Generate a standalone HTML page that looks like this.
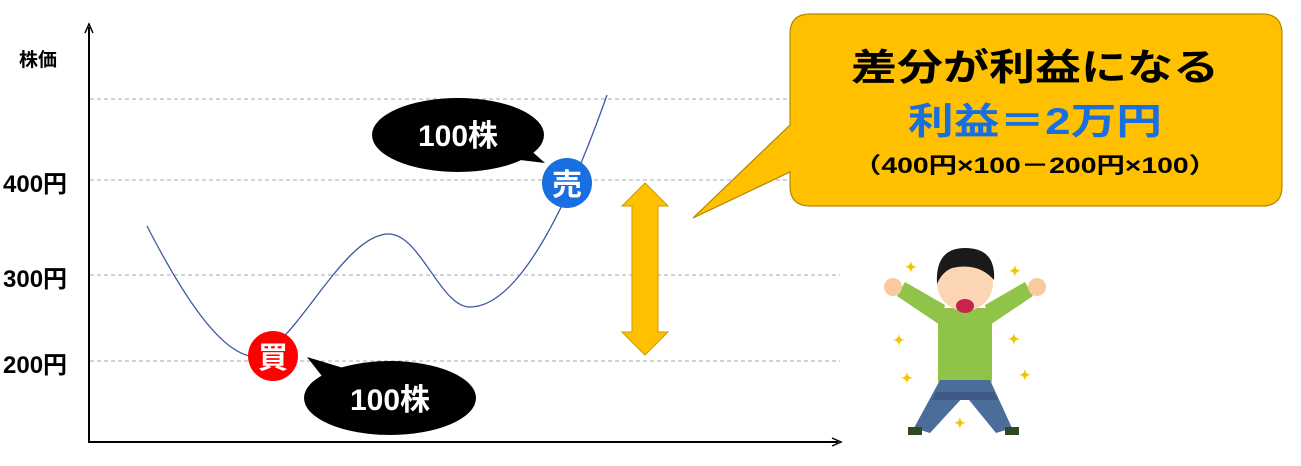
<!DOCTYPE html>
<html><head><meta charset="utf-8"><style>
body{margin:0;background:#fff;}
svg text{font-family:"Liberation Sans","Noto Sans CJK JP",sans-serif;font-weight:bold;}
</style></head><body>
<svg width="1301" height="461" viewBox="0 0 1301 461" xmlns="http://www.w3.org/2000/svg">
<g stroke="#aaa" stroke-dasharray="4,3" stroke-width="1">
<line x1="90" y1="99" x2="840" y2="99"/><line x1="90" y1="180" x2="840" y2="180"/>
<line x1="90" y1="275" x2="840" y2="275"/><line x1="90" y1="361" x2="840" y2="361"/>
</g>
<line x1="89" y1="442" x2="89" y2="27" stroke="#000" stroke-width="2"/>
<path d="M85,33 L89,24 L93,33" fill="none" stroke="#000" stroke-width="1.5"/>
<line x1="88" y1="442" x2="838" y2="442" stroke="#000" stroke-width="2"/>
<path d="M832,438 L841,442 L832,446" fill="none" stroke="#000" stroke-width="1.5"/>
<text x="19" y="66" font-size="19">株価</text>
<text x="3" y="192" font-size="24">400円</text>
<text x="3" y="287" font-size="24">300円</text>
<text x="3" y="373" font-size="24">200円</text>
<path d="M147,226 C185,300 220,350 250,356 C290,360 340,235 388,234 C420,233 440,307 470,307 C520,307 570,200 607,95" fill="none" stroke="#3a5aa0" stroke-width="1.3"/>
<ellipse cx="458" cy="135" rx="86" ry="37"/>
<path d="M520,160 L545,163 L528,148 Z"/>
<text x="458" y="146" font-size="30" fill="#fff" text-anchor="middle">100株</text>
<ellipse cx="390" cy="398" rx="86" ry="37"/>
<path d="M307,357 L350,370 L325,380 Z"/>
<text x="390" y="410" font-size="30" fill="#fff" text-anchor="middle">100株</text>
<circle cx="567" cy="183" r="25" fill="#1a6fe0"/>
<text x="567" y="195" font-size="30" fill="#fff" text-anchor="middle">売</text>
<circle cx="273" cy="356" r="25" fill="#f00"/>
<text x="273" y="368" font-size="30" fill="#fff" text-anchor="middle">買</text>
<path d="M645,183 L668,206 L658,206 L658,332 L668,332 L645,355 L622,332 L632,332 L632,206 L622,206 Z" fill="#FFC000" stroke="#c89a00" stroke-width="1"/>
<path d="M810,14 H1262 Q1282,14 1282,34 V186 Q1282,206 1262,206 H810 Q790,206 790,186 V172 L693,218 L790,125 V34 Q790,14 810,14 Z" fill="#FFC000" stroke="#b08800" stroke-width="1.2"/>
<text x="851" y="80" font-size="37" textLength="368" lengthAdjust="spacingAndGlyphs">差分が利益になる</text>
<text x="908" y="134" font-size="37" fill="#1a6fe0" textLength="254" lengthAdjust="spacingAndGlyphs">利益＝2万円</text>
<text x="853" y="173" font-size="22" textLength="364" lengthAdjust="spacingAndGlyphs">（400円×100－200円×100）</text>
<!-- person -->
<g>
<path d="M945,305 L905,282 L897,296 L940,325 Z" fill="#8fc449"/>
<path d="M985,305 L1025,282 L1033,296 L990,325 Z" fill="#8fc449"/>
<circle cx="893" cy="287" r="9" fill="#f9c9a0"/>
<circle cx="1037" cy="287" r="9" fill="#f9c9a0"/>
<rect x="938" y="308" width="54" height="78" rx="6" fill="#8fc449"/>
<path d="M940,380 L990,380 L1012,428 L996,433 L965,395 L930,433 L914,428 Z" fill="#4a6d9a"/>
<path d="M936,392 L994,392 L998,400 L932,400 Z" fill="#3d5b85"/>
<circle cx="965" cy="283" r="28" fill="#fcd6b4"/>
<path d="M937,284 Q935,248 965,248 Q996,248 994,280 Q978,262 952,268 Q942,272 937,284 Z" fill="#1a1a1a"/>
<ellipse cx="965" cy="306" rx="9" ry="7" fill="#c8234a"/>
<rect x="908" y="427" width="14" height="8" fill="#2f4a20"/>
<rect x="1005" y="427" width="14" height="8" fill="#2f4a20"/>
</g>
<g fill="#f5c400" font-size="14">
<text x="905" y="272">✦</text><text x="1009" y="276">✦</text><text x="893" y="345">✦</text>
<text x="1008" y="344">✦</text><text x="901" y="383">✦</text><text x="1019" y="380">✦</text><text x="954" y="428">✦</text>
</g>
</svg>
</body></html>
